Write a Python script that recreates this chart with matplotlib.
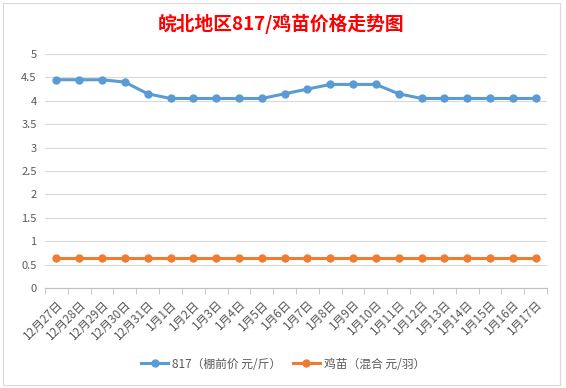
import matplotlib.pyplot as plt
import numpy as np
from matplotlib.patches import Rectangle

plt.rcParams['font.family'] = ['Noto Sans CJK SC', 'DejaVu Sans']

# data
dates = ["12月27日", "12月28日", "12月29日", "12月30日", "12月31日",
         "1月1日", "1月2日", "1月3日", "1月4日", "1月5日", "1月6日", "1月7日",
         "1月8日", "1月9日", "1月10日", "1月11日", "1月12日", "1月13日",
         "1月14日", "1月15日", "1月16日", "1月17日"]
price_817 = [4.45, 4.45, 4.45, 4.4, 4.15, 4.05, 4.05, 4.05, 4.05, 4.05, 4.15,
             4.25, 4.35, 4.35, 4.35, 4.15, 4.05, 4.05, 4.05, 4.05, 4.05, 4.05]
price_chick = [0.65] * 22

fig = plt.figure(figsize=(5.66, 3.88), dpi=100)
fig.patches.append(Rectangle((3 / 566, 3 / 388), 557 / 566, 382 / 388,
                             transform=fig.transFigure, fill=False,
                             edgecolor="#D9D9D9", linewidth=0.8))

ax = fig.add_axes([45 / 566, 100 / 388, 502 / 566, 234 / 388])
x = np.arange(len(dates))
ax.plot(x, price_817, color="#5B9BD5", linewidth=2.2, marker="o", markersize=5,
        label="817（棚前价 元/斤）")
ax.plot(x, price_chick, color="#ED7D31", linewidth=2.2, marker="o", markersize=5,
        label="鸡苗（混合 元/羽）")

ax.set_xlim(-0.5, len(dates) - 0.5)
ax.set_ylim(0, 5)
ax.set_yticks(np.arange(0, 5.01, 0.5))
ax.set_yticklabels(["0", "0.5", "1", "1.5", "2", "2.5", "3", "3.5", "4", "4.5", "5"])
ax.yaxis.grid(True, color="#D9D9D9", linewidth=0.8)
ax.set_axisbelow(True)

ax.set_xticks(x)
ax.set_xticklabels(dates, rotation=45, ha="right", rotation_mode="anchor")
ax.set_xticks(np.arange(-0.5, len(dates), 1), minor=True)
ax.tick_params(axis="x", which="major", length=0, pad=7, labelsize=8.5, colors="#595959")
ax.tick_params(axis="x", which="minor", length=4, color="#BFBFBF")
ax.tick_params(axis="y", length=0, labelsize=8, colors="#595959", pad=6)

for s in ["top", "right", "left"]:
    ax.spines[s].set_visible(False)
ax.spines["bottom"].set_color("#BFBFBF")

fig.text(0.497, 0.938, "皖北地区817/鸡苗价格走势图", ha="center", va="center",
         color="#FF0000", fontsize=13.5, fontweight="bold")

fig.legend(loc="center", bbox_to_anchor=(0.5, 24 / 388), ncol=2, frameon=False,
           fontsize=8.5, labelcolor="#595959", handlelength=2.3, columnspacing=1.0,
           handletextpad=0.3)

plt.savefig("out.png", dpi=100)
